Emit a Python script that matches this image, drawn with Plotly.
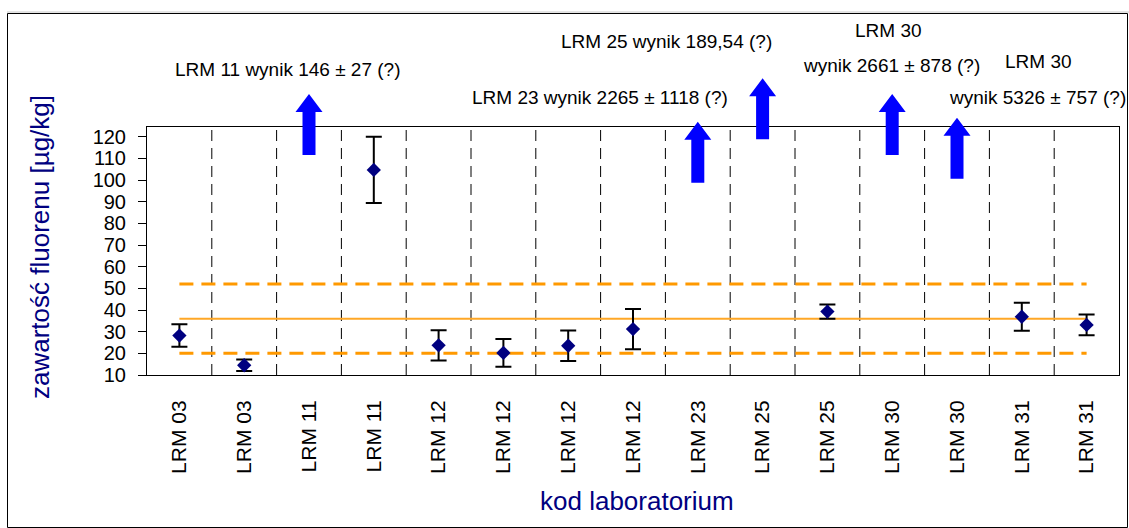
import plotly.graph_objects as go

# --- data -----------------------------------------------------------------
labels = ["LRM 03", "LRM 03", "LRM 11", "LRM 11", "LRM 12", "LRM 12", "LRM 12",
          "LRM 12", "LRM 23", "LRM 25", "LRM 25", "LRM 30", "LRM 30", "LRM 31", "LRM 31"]
wyniki = [28.2, 14.5, None, 104.7, 23.7, 20.2, 23.5, 31.2, None, None, 39.3,
          None, None, 36.9, 33.1]
niepewnosc = [5.2, 2.7, None, 15.3, 7.0, 6.4, 7.0, 9.3, None, None, 3.3,
              None, None, 6.5, 4.8]
wartosc_przypisana = 36
granica_dolna = 20
granica_gorna = 52
y_ticks = list(range(10, 130, 10))

# results far above the axis range (shown as arrows)
poza_zakresem = [2, 8, 9, 11, 12]

# --- geometry (pixels) ----------------------------------------------------
W, H = 1129, 528
ML, MR, MT, MB = 147, 10, 127, 153
PW, PH = W - ML - MR, H - MT - MB
n_cat = len(labels)
x_idx = list(range(n_cat))
k = n_cat / PW  # category units per pixel


def fx(px):
    return (px - ML) / PW


def fy(py):
    return (H - MB - py) / PH


FONT = "Liberation Sans, Arial, sans-serif"
NAVY = "#000080"
ORANGE = "#FF9900"

fig = go.Figure()

# reference value and limits
fig.add_trace(go.Scatter(x=[x_idx[0], x_idx[-1]], y=[granica_gorna] * 2, mode="lines",
                         line=dict(color=ORANGE, width=3, dash="14px,8px"),
                         hoverinfo="skip"))
fig.add_trace(go.Scatter(x=[x_idx[0], x_idx[-1]], y=[granica_dolna] * 2, mode="lines",
                         line=dict(color=ORANGE, width=3, dash="14px,8px"),
                         hoverinfo="skip"))
fig.add_trace(go.Scatter(x=[x_idx[0], x_idx[-1]], y=[wartosc_przypisana] * 2, mode="lines",
                         line=dict(color="#FFA726", width=2), hoverinfo="skip"))

# laboratory results with uncertainty
fig.add_trace(go.Scatter(
    x=x_idx, y=wyniki, mode="markers",
    marker=dict(symbol="diamond", size=11, color=NAVY),
    error_y=dict(type="data", array=niepewnosc, visible=True,
                 color="black", thickness=2, width=8),
))

shapes = []
# dashed separators between categories
for i in range(n_cat - 1):
    shapes.append(dict(type="line", xref="x", yref="paper", x0=i + 0.5, x1=i + 0.5,
                       y0=0, y1=1, line=dict(color="black", width=1, dash="11px,7px"),
                       layer="below"))

# block arrows for off-scale results
arrow_tips = [94, 121.7, 78.3, 94, 117.7]
for idx, tip in zip(poza_zakresem, arrow_tips):
    hw, sw, hh, L = 13.5, 6.5, 18, 61
    pts = [(0, tip), (hw, tip + hh), (sw, tip + hh), (sw, tip + L),
           (-sw, tip + L), (-sw, tip + hh), (-hw, tip + hh)]
    path = "M " + " L ".join(f"{idx + dx * k:.5f},{fy(py):.5f}" for dx, py in pts) + " Z"
    shapes.append(dict(type="path", xref="x", yref="paper", path=path,
                       fillcolor="#0000FF", line=dict(width=0)))

# outer chart frame
shapes.append(dict(type="line", xref="paper", yref="paper", x0=fx(7), x1=fx(W),
                   y0=fy(12), y1=fy(12), line=dict(color="#c8c8c8", width=1)))
shapes.append(dict(type="rect", xref="paper", yref="paper", x0=fx(7.5), x1=fx(1127.5),
                   y0=fy(527.5), y1=fy(13.5), line=dict(color="black", width=1)))

annotations = []
notes = [
    ("LRM 11 wynik 146 ± 27 (?)", 287.5, 69),
    ("LRM 25 wynik 189,54 (?)", 666, 41),
    ("LRM 23 wynik 2265 ± 1118 (?)", 600, 97),
    ("LRM 30", 888, 31),
    ("wynik 2661 ± 878 (?)", 891, 65),
    ("LRM 30", 1038, 62),
    ("wynik 5326 ± 757 (?)", 1037, 97),
]
for txt, px, py in notes:
    annotations.append(dict(text=txt, xref="paper", yref="paper", x=fx(px), y=fy(py),
                            xanchor="center", yanchor="middle", showarrow=False,
                            font=dict(family=FONT, size=19, color="black")))

# axis titles
annotations.append(dict(text="zawartość fluorenu [µg/kg]", xref="paper", yref="paper",
                        x=fx(40), y=fy(247), textangle=-90, showarrow=False,
                        xanchor="center", yanchor="middle",
                        font=dict(family=FONT, size=26, color=NAVY)))
annotations.append(dict(text="kod laboratorium", xref="paper", yref="paper",
                        x=fx(637), y=fy(501), showarrow=False,
                        xanchor="center", yanchor="middle",
                        font=dict(family=FONT, size=26, color=NAVY)))

fig.update_layout(
    width=W, height=H,
    margin=dict(l=ML, r=MR, t=MT, b=MB, pad=0),
    paper_bgcolor="white", plot_bgcolor="white",
    showlegend=False,
    shapes=shapes, annotations=annotations,
    xaxis=dict(range=[-0.5, n_cat - 0.5], tickvals=x_idx, ticktext=labels,
               tickangle=-90, ticks="", showgrid=False, zeroline=False,
               showline=True, mirror=True, linecolor="black", linewidth=1,
               ticklabelstandoff=16,
               tickfont=dict(family=FONT, size=21, color="black")),
    yaxis=dict(range=[10, 124.5], tickvals=y_ticks, ticks="outside", ticklen=8,
               tickcolor="black", showgrid=False, zeroline=False,
               showline=True, mirror=True, linecolor="black", linewidth=1,
               ticklabelstandoff=8,
               tickfont=dict(family=FONT, size=20, color="black")),
)

fig.write_html("out.html")
